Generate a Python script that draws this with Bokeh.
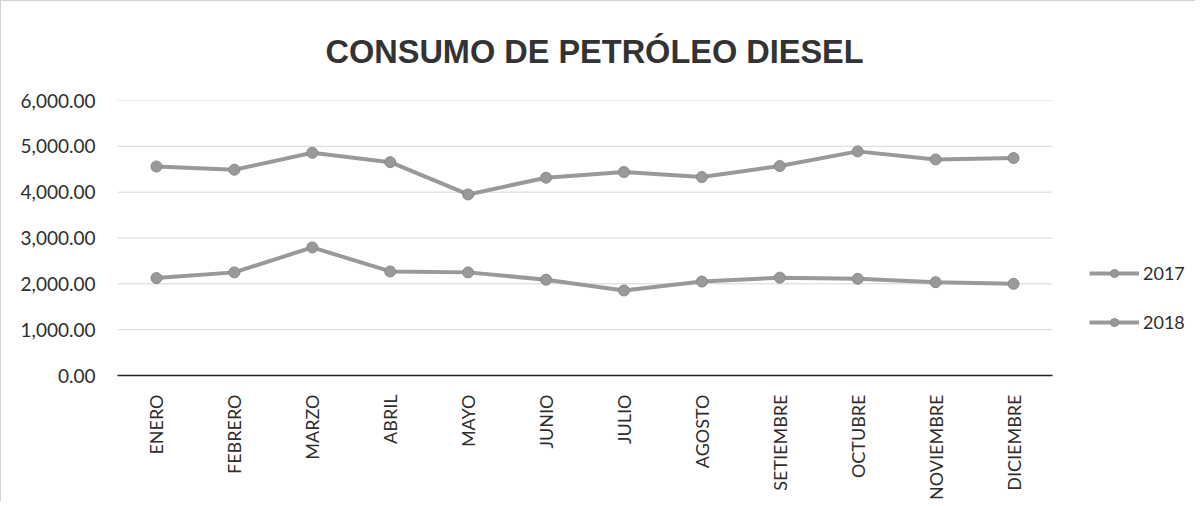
from bokeh.plotting import figure
from bokeh.models import (FixedTicker, NumeralTickFormatter, Legend, LegendItem, Range1d)
from bokeh.embed import file_html
from bokeh.resources import INLINE
from math import pi

meses = ["ENERO", "FEBRERO", "MARZO", "ABRIL", "MAYO", "JUNIO", "JULIO",
         "AGOSTO", "SETIEMBRE", "OCTUBRE", "NOVIEMBRE", "DICIEMBRE"]
serie_2017 = [4560, 4490, 4860, 4655, 3950, 4315, 4440, 4330, 4570, 4890, 4715, 4745]
serie_2018 = [2125, 2250, 2795, 2270, 2250, 2090, 1855, 2050, 2135, 2110, 2035, 2000]
y_ticks = [0, 1000, 2000, 3000, 4000, 5000, 6000]

n = len(meses)
xpos = [i + 0.5 for i in range(n)]          # category centres
x_end = n * 1079 / 935                       # frame also hosts the legend on the right

p = figure(width=1195, height=501, x_range=Range1d(0, x_end),
           y_range=Range1d(0, 6000), output_backend="svg", toolbar_location=None,
           title="CONSUMO DE PETRÓLEO DIESEL",
           min_border_left=116, min_border_right=0, min_border_top=98, min_border_bottom=100)

p.styles = {"border-top": "1px solid #d4d4d4", "border-left": "1px solid #d4d4d4"}

p.title.text_font = "Liberation Sans"
p.title.text_font_size = "32.5px"
p.title.text_font_style = "bold"
p.title.text_color = "#333333"
p.title.align = "left"
p.title.offset = 208
p.title.standoff = 61

p.outline_line_color = None
p.background_fill_color = "white"
p.border_fill_color = "white"

p.yaxis.ticker = FixedTicker(ticks=y_ticks)
p.yaxis.formatter = NumeralTickFormatter(format="0,0.00")
p.yaxis.axis_line_color = None
p.yaxis.major_tick_line_color = None
p.yaxis.minor_tick_line_color = None
p.yaxis.major_label_text_font = "Lato"
p.yaxis.major_label_text_font_size = "19px"
p.yaxis.major_label_text_color = "#2e2e2e"
p.yaxis.major_label_standoff = 16

p.xaxis.ticker = FixedTicker(ticks=xpos)
p.xaxis.major_label_overrides = {x: m for x, m in zip(xpos, meses)}
p.xaxis.bounds = (0, n)
p.xaxis.axis_line_color = "#222222"
p.xaxis.axis_line_width = 1.5
p.xaxis.major_tick_line_color = None
p.xaxis.minor_tick_line_color = None
p.xaxis.major_label_orientation = pi / 2
p.xaxis.major_label_text_font = "Lato"
p.xaxis.major_label_text_font_size = "18px"
p.xaxis.major_label_text_color = "#2e2e2e"
p.xaxis.major_label_standoff = 13

p.xgrid.grid_line_color = None
p.ygrid.grid_line_color = None
# horizontal gridlines limited to the category span
p.segment(x0=[0] * len(y_ticks), x1=[n] * len(y_ticks), y0=y_ticks, y1=y_ticks,
          line_color="#d6d6d6", line_width=1)

line_color = "#999999"
l1 = p.line(xpos, serie_2017, line_color=line_color, line_width=4)
s1 = p.scatter(xpos, serie_2017, size=11, fill_color=line_color, line_color="#8a8a8a")
l2 = p.line(xpos, serie_2018, line_color=line_color, line_width=4)
s2 = p.scatter(xpos, serie_2018, size=11, fill_color=line_color, line_color="#8a8a8a")

legend = Legend(items=[LegendItem(label="2017", renderers=[l1, s1]),
                       LegendItem(label="2018", renderers=[l2, s2])],
                location=(972, 42))
legend.background_fill_alpha = 0
legend.border_line_color = None
legend.label_text_font = "Lato"
legend.label_text_font_size = "18px"
legend.label_text_color = "#2e2e2e"
legend.glyph_width = 50
legend.glyph_height = 20
legend.label_height = 20
legend.label_standoff = 4
legend.spacing = 27
legend.padding = 0
legend.margin = 0
p.add_layout(legend, "center")

open("out.html", "w").write(file_html(p, INLINE))
